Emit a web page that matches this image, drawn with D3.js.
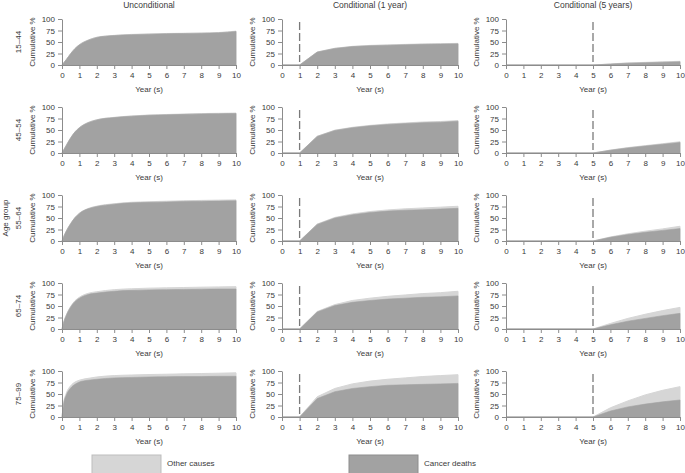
<!DOCTYPE html>
<html><head><meta charset="utf-8">
<script src="https://cdn.jsdelivr.net/npm/d3@7"></script>
<style>body{margin:0;background:#fff}svg{display:block;font-family:"Liberation Sans",Arial,sans-serif}</style>
</head><body><svg id="c" width="685" height="473"></svg>
<script>
const ageGroups = ["15–44","45–54","55–64","65–74","75–99"];
const panelTitles = ["Unconditional","Conditional (1 year)","Conditional (5 years)"];
const conditionYear = [null, 1, 5];
const xTicks = [0,1,2,3,4,5,6,7,8,9,10];
const yTicks = [0,25,50,75,100];
const legendLabels = ["Other causes","Cancer deaths"];

const tUncond = [0,0.1,0.25,0.5,0.75,1,1.5,2,3,4,5,6,7,8,9,10];
const uncondCancer = [
  [0,5,12,25,36,44,54,60,64,66,67,68,68.5,69,70,73],
  [0,7,17,33,46,55,66,72,77,80,82,83,84,85,85.5,86],
  [0,10,22,38,51,60,70,75,80,83,84,85,86,86.5,87,87.5],
  [0,15,30,48,60,67,75,78,82,84,85,85.5,86,86.5,87,87],
  [0,30,48,63,71,76,80,82,85,86,87,87.5,88,88,88.5,88.5]
];
const uncondTotal = [
  [0,5,12,25,36,44,54,60.3,64.4,66.5,67.5,68.5,69,69.6,70.6,73.6],
  [0,7,17,33,46,55.2,66.3,72.4,77.5,80.6,82.6,83.7,84.7,85.7,86.3,86.8],
  [0,10,22,38,51.3,60.5,70.6,75.8,81,84.2,85.4,86.5,87.6,88.2,88.8,89.4],
  [0,15.3,30.7,49,61.5,69,77.5,81,85.5,87.5,88.8,89.5,90.2,90.9,91.5,92],
  [0,32,52,68,76,80,84,87,90,91.3,92.3,93,93.8,94.5,95.2,96]
];
const tCond1 = [0,1,2,3,4,5,6,7,8,9,10];
const cond1Cancer = [
  [0,0,28,36,40,42,43,44,45,45.5,46],
  [0,0,36,49,55,59,62,64,66,67,69],
  [0,0,36,50,57,62,65,67,68,69.5,71],
  [0,0,37,51,58,62,65,67,69,70,72],
  [0,0,40,55,62,66,69,70,71,72,73]
];
const cond1Total = [
  [0,0,28.3,36.4,40.5,42.6,43.7,44.8,45.8,46.4,47],
  [0,0,36.4,49.6,55.8,60,63.2,65.3,67.4,68.5,70.5],
  [0,0,36.8,51.2,58.8,64,67.5,70,71.8,73.6,75.5],
  [0,0,38,53,62,67,71,74,77,79,82],
  [0,0,44,62,72,78,82,85,88,90,92]
];
const tCond5 = [0,5,6,7,8,9,10];
const cond5Cancer = [
  [0,0,2,4,5,6,7],
  [0,0,6,11,15,19,23],
  [0,0,8,14,19,23,27],
  [0,0,9,17,23,29,34],
  [0,0,13,22,28,33,37]
];
const cond5Total = [
  [0,0,2.3,4.5,5.7,6.9,8],
  [0,0,6.4,11.7,16,20.2,24.5],
  [0,0,8.8,15.6,21.3,26.3,32],
  [0,0,12,23,32,40,47],
  [0,0,20,35,48,58,66]
];

const panelData = [
  {t:tUncond, cancer:uncondCancer, total:uncondTotal, curve:d3.curveMonotoneX},
  {t:tCond1, cancer:cond1Cancer, total:cond1Total, curve:d3.curveLinear},
  {t:tCond5, cancer:cond5Cancer, total:cond5Total, curve:d3.curveLinear}
];

const svg = d3.select("#c");
const colX = [[62,236],[282,458],[506,680]];
const rowTop = 19, rowStep = 88, plotH = 46;
const darkFill = "#a2a2a2", lightFill = "#d6d6d6";
const axisCol = "#8c8c8c", textCol = "#3a3a3a";
const fs = 8;

panelTitles.forEach((t,c)=>{
  svg.append("text").attr("x",(colX[c][0]+colX[c][1])/2).attr("y",8)
    .attr("text-anchor","middle").attr("font-size",8.5).attr("fill",textCol).text(t);
});

ageGroups.forEach((age,r)=>{
  const top = rowTop + r*rowStep, bottom = top + plotH;
  const y = d3.scaleLinear().domain([0,100]).range([bottom, top]);
  // row labels
  svg.append("text").attr("transform",`translate(21,${(top+bottom)/2}) rotate(-90)`)
    .attr("text-anchor","middle").attr("font-size",fs).attr("fill",textCol).text(age);
  if (r===2) {
    svg.append("text").attr("transform",`translate(8,${(top+bottom)/2}) rotate(-90)`)
      .attr("text-anchor","middle").attr("font-size",fs).attr("fill",textCol).text("Age group");
  }
  panelData.forEach((pd,c)=>{
    const x = d3.scaleLinear().domain([0,10]).range(colX[c]);
    const g = svg.append("g");
    const pts = pd.t.map((tt,i)=>({t:tt, cancer:pd.cancer[r][i], total:pd.total[r][i]}));
    const areaTotal = d3.area().x(d=>x(d.t)).y0(y(0)).y1(d=>y(d.total)).curve(pd.curve);
    const areaCancer = d3.area().x(d=>x(d.t)).y0(y(0)).y1(d=>y(d.cancer)).curve(pd.curve);
    g.append("path").datum(pts).attr("d",areaTotal).attr("fill",lightFill)
      .attr("stroke",lightFill).attr("stroke-width",1);
    g.append("path").datum(pts).attr("d",areaCancer).attr("fill",darkFill)
      .attr("stroke",darkFill).attr("stroke-width",0.6);
    // axes
    const ax = g.append("g").attr("transform",`translate(0,${bottom})`)
      .call(d3.axisBottom(x).tickValues(xTicks).tickSize(4).tickPadding(3).tickSizeOuter(0));
    const ay = g.append("g").attr("transform",`translate(${colX[c][0]},0)`)
      .call(d3.axisLeft(y).tickValues(yTicks).tickSize(4).tickPadding(3).tickSizeOuter(0));
    [ax,ay].forEach(a=>{
      a.select(".domain").attr("stroke",axisCol);
      a.selectAll(".tick line").attr("stroke",axisCol);
      a.selectAll(".tick text").attr("fill",textCol).attr("font-size",fs)
        .attr("font-family","Liberation Sans, Arial, sans-serif");
    });
    g.append("text").attr("x",(colX[c][0]+colX[c][1])/2).attr("y",bottom+27)
      .attr("text-anchor","middle").attr("font-size",fs).attr("fill",textCol).text("Year (s)");
    g.append("text").attr("transform",`translate(${colX[c][0]-27},${(top+bottom)/2}) rotate(-90)`)
      .attr("text-anchor","middle").attr("font-size",fs).attr("fill",textCol).text("Cumulative %");
    if (conditionYear[c] !== null) {
      g.append("line").attr("x1",x(conditionYear[c])).attr("x2",x(conditionYear[c]))
        .attr("y1",top+3).attr("y2",bottom-3)
        .attr("stroke","#7a7a7a").attr("stroke-width",1.3).attr("stroke-dasharray","8,3");
    }
  });
});

// legend
const leg = [[92,lightFill,"#bdbdbd"],[349,darkFill,"#8e8e8e"]];
legendLabels.forEach((lab,i)=>{
  svg.append("rect").attr("x",leg[i][0]).attr("y",455).attr("width",69).attr("height",19)
    .attr("fill",leg[i][1]).attr("stroke",leg[i][2]).attr("stroke-width",1);
  svg.append("text").attr("x",leg[i][0]+75).attr("y",466).attr("font-size",fs)
    .attr("fill",textCol).text(lab);
});
</script></body></html>
